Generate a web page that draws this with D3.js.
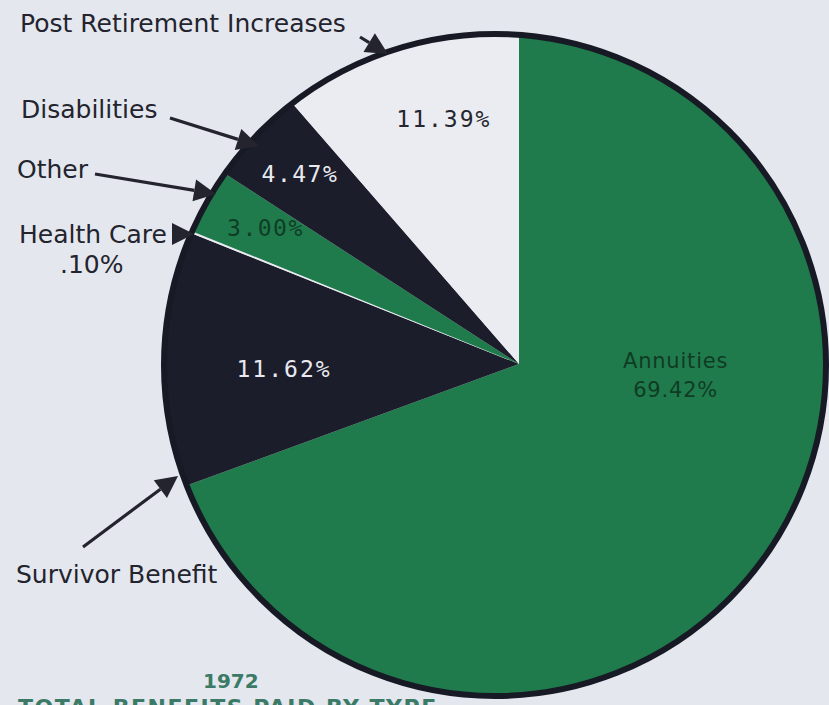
<!DOCTYPE html>
<html>
<head>
<meta charset="utf-8">
<script src="https://cdn.jsdelivr.net/npm/d3@7"></script>
<style>
  html, body { margin: 0; padding: 0; background: #e4e7ed; }
  svg { display: block; }
</style>
</head>
<body>
<svg id="chart" width="829" height="705"></svg>
<script>
// Benefit categories, clockwise from twelve o'clock
const categories = ["Annuities", "Survivor Benefit", "Health Care", "Other", "Disabilities", "Post Retirement Increases"];
// Share of total benefits paid, percent
const shares = [69.42, 11.62, 0.10, 3.00, 4.47, 11.39];
// Printed percentage strings
const shareLabels = ["69.42%", "11.62%", ".10%", "3.00%", "4.47%", "11.39%"];
const year = "1972";
const title = "TOTAL BENEFITS PAID BY TYPE";

// Palette
const GREEN = "#1f7b4b", INK = "#1c1d2b", PAPER = "#e4e7ed", LIGHT = "#eaecf1";
const fillOf = { "Annuities": GREEN, "Survivor Benefit": INK, "Health Care": LIGHT,
                 "Other": GREEN, "Disabilities": INK, "Post Retirement Increases": LIGHT };

const svg = d3.select("#chart");
svg.append("rect").attr("width", 829).attr("height", 705).attr("fill", PAPER);

// Disc outline and the point where the wedges meet
const disc = { cx: 495, cy: 365, r: 331 };
const hub = { x: 519, y: 364 };

svg.append("defs").append("clipPath").attr("id", "disc")
  .append("circle").attr("cx", disc.cx).attr("cy", disc.cy).attr("r", disc.r);

const pie = d3.pie().sort(null).value(d => d.value)
  .startAngle(0).endAngle(2 * Math.PI);
const data = categories.map((c, i) => ({ name: c, value: shares[i], label: shareLabels[i] }));
const arcs = pie(data);

const arc = d3.arc().innerRadius(0).outerRadius(460);

const wedges = svg.append("g").attr("clip-path", "url(#disc)")
  .append("g").attr("transform", `translate(${hub.x},${hub.y})`);

wedges.selectAll("path").data(arcs).join("path")
  .attr("d", arc)
  .attr("fill", d => fillOf[d.data.name]);

svg.append("circle")
  .attr("cx", disc.cx).attr("cy", disc.cy).attr("r", disc.r)
  .attr("fill", "none").attr("stroke", "#171a25").attr("stroke-width", 6);

// In-wedge percentage labels, placed off each wedge's bisector
const inside = {
  "Annuities":                 { nudge: -31, r: 157, color: "#103b25", lines: ["Annuities", null], font: "DejaVu Sans", size: 21, ls: 0.8 },
  "Survivor Benefit":          { nudge: -2,  r: 235, color: "#e9eaf0", lines: [null], font: "DejaVu Sans Mono", size: 23, ls: 2 },
  "Other":                     { nudge: 0.8, r: 288, color: "#0f3d27", lines: [null], font: "DejaVu Sans Mono", size: 23, ls: 1.5 },
  "Disabilities":              { nudge: 0,   r: 290, color: "#e9eaf0", lines: [null], font: "DejaVu Sans Mono", size: 23, ls: 1.5 },
  "Post Retirement Increases": { nudge: 3.5, r: 257, color: "#25262f", lines: [null], font: "DejaVu Sans Mono", size: 23, ls: 2 }
};

arcs.forEach(a => {
  const cfg = inside[a.data.name];
  if (!cfg) return;
  const mid = (a.startAngle + a.endAngle) / 2 + cfg.nudge * Math.PI / 180;
  const x = hub.x + cfg.r * Math.sin(mid);
  const y = hub.y - cfg.r * Math.cos(mid);
  const lines = cfg.lines.map(l => l === null ? a.data.label : l);
  const lh = cfg.size * 1.4;
  const t = svg.append("text")
    .attr("x", x).attr("text-anchor", "middle")
    .attr("font-family", cfg.font).attr("font-size", cfg.size)
    .attr("letter-spacing", cfg.ls)
    .attr("fill", cfg.color);
  lines.forEach((l, i) => {
    t.append("tspan").attr("x", x)
      .attr("y", y + (i - (lines.length - 1) / 2) * lh + cfg.size * 0.36)
      .text(l);
  });
});

// Outside callouts with arrows
const callouts = [
  { text: categories[5], x: 20, y: 32, tail: [360, 37], tip: [388, 54] },
  { text: categories[4], x: 21, y: 118, tail: [170, 118], tip: [259, 146] },
  { text: categories[3], x: 17, y: 178, tail: [95, 174], tip: [216, 194] },
  { text: categories[2], x: 19, y: 243, tail: null, tip: [194, 234] },
  { text: categories[1], x: 16, y: 583, tail: [83, 547], tip: [178, 476] }
];

const ink = "#23242e";
callouts.forEach(c => {
  svg.append("text").attr("x", c.x).attr("y", c.y)
    .attr("font-family", "DejaVu Sans").attr("font-size", 25)
    .attr("fill", ink).text(c.text);

  const tail = c.tail || [c.tip[0] - 22, c.tip[1]];
  const dx = c.tip[0] - tail[0], dy = c.tip[1] - tail[1];
  const len = Math.hypot(dx, dy);
  const ux = dx / len, uy = dy / len;
  const headL = 22, headW = 11;
  const bx = c.tip[0] - ux * headL, by = c.tip[1] - uy * headL;
  if (c.tail) {
    svg.append("line").attr("x1", tail[0]).attr("y1", tail[1])
      .attr("x2", bx).attr("y2", by)
      .attr("stroke", ink).attr("stroke-width", 3.2);
  }
  svg.append("path")
    .attr("d", `M${c.tip[0]},${c.tip[1]}L${bx - uy * headW},${by + ux * headW}L${bx + uy * headW},${by - ux * headW}Z`)
    .attr("fill", ink);
});

// Health Care share sits under its name
svg.append("text").attr("x", 60).attr("y", 273)
  .attr("font-family", "DejaVu Sans").attr("font-size", 25)
  .attr("fill", ink).text(shareLabels[2]);

// Caption
svg.append("text").attr("x", 203).attr("y", 688)
  .attr("font-family", "DejaVu Sans").attr("font-weight", "bold").attr("font-size", 20)
  .attr("fill", "#3a7a66").text(year);
svg.append("text").attr("x", 18).attr("y", 715)
  .attr("font-family", "DejaVu Sans").attr("font-weight", "bold").attr("font-size", 22)
  .attr("letter-spacing", 1.5)
  .attr("fill", "#3a7a66").text(title);
</script>
</body>
</html>
